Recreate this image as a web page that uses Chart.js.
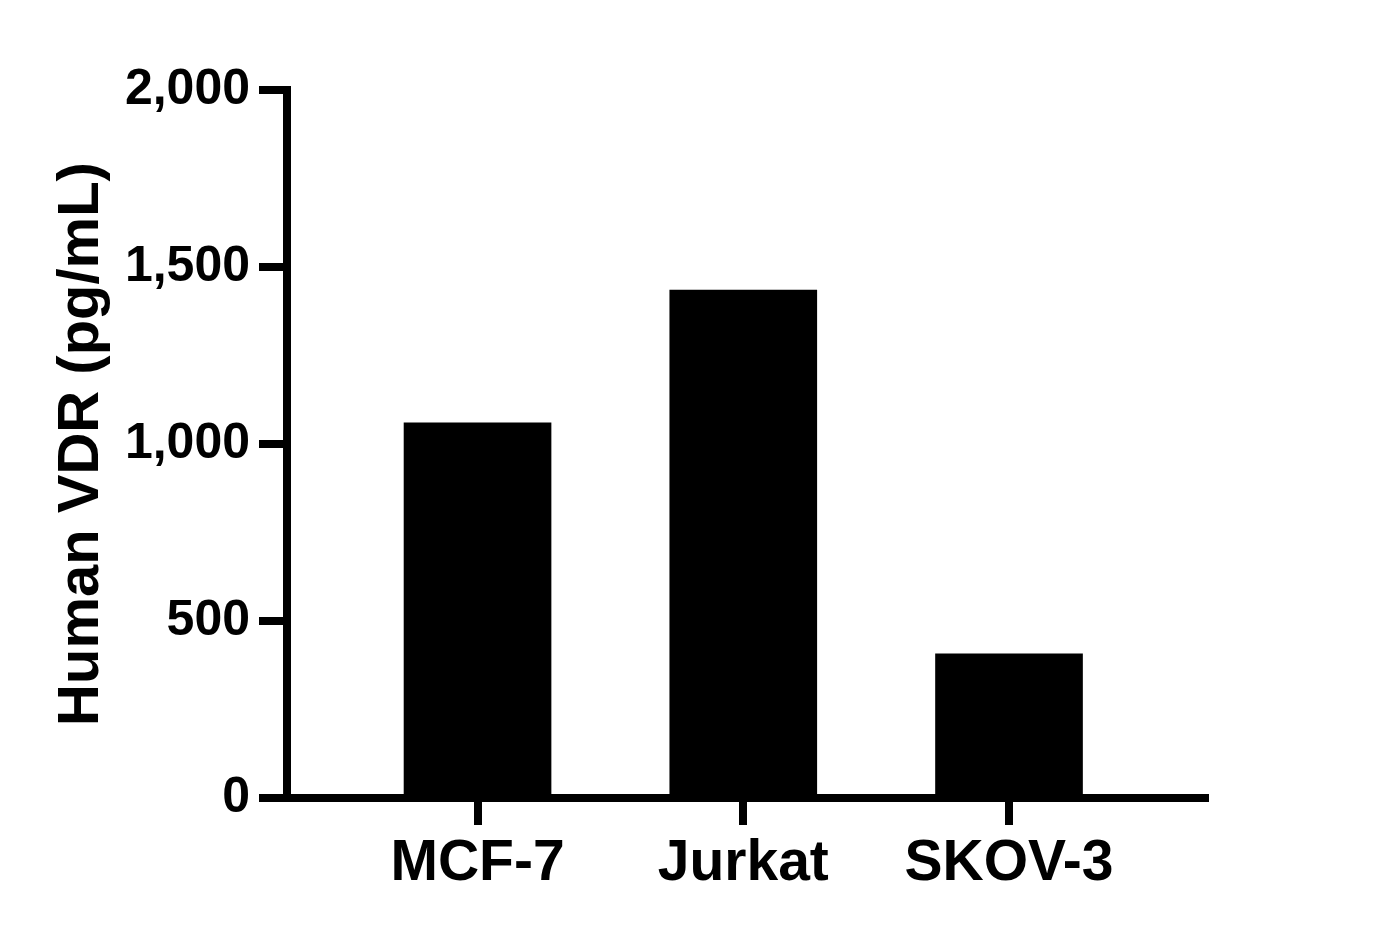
<!DOCTYPE html>
<html>
<head>
<meta charset="utf-8">
<title>Human VDR</title>
<script src="https://cdn.jsdelivr.net/npm/chart.js@4/dist/chart.umd.min.js"></script>
<style>
  html, body { margin: 0; padding: 0; background: #fff; }
  #wrap { width: 1381px; height: 938px; position: relative; }
</style>
</head>
<body>
<div id="wrap"><canvas id="barChart"></canvas></div>
<script>
// data
const categories = ["MCF-7", "Jurkat", "SKOV-3"];
const vdrValues = [1060, 1435, 407];
const yTicks = [0, 500, 1000, 1500, 2000];
const yTitle = "Human VDR (pg/mL)";

const FONT = "'Liberation Sans', Arial, Helvetica, sans-serif";

function drawBarChart() {
    "use strict";
    let ctx = document.getElementById("barChart");
    let points = categories.map((c, i) => ({ x: i + 1, y: vdrValues[i] }));
    new Chart(ctx, {
        type: 'bar',
        data: {
            datasets: [{
                label: yTitle,
                data: points,
                backgroundColor: "#000",
                borderWidth: 0,
                barThickness: 147
            }]
        },
        options: {
            responsive: true,
            maintainAspectRatio: false,
            animation: false,
            devicePixelRatio: 1,
            layout: {
                padding: { left: 0, right: 176, top: 90, bottom: 0 }
            },
            plugins: {
                legend: { display: false },
                tooltip: { enabled: false }
            },
            scales: {
                x: {
                    type: 'linear',
                    offset: false,
                    min: 0.283,
                    max: 3.7375,
                    afterBuildTicks: (scale) => {
                        scale.ticks = categories.map((c, i) => ({ value: i + 1 }));
                    },
                    afterFit: (scale) => { scale.height = 140; },
                    border: { display: true, width: 8, color: "#000" },
                    grid: {
                        display: true,
                        offset: false,
                        drawOnChartArea: false,
                        drawTicks: true,
                        tickLength: 27,
                        lineWidth: 8,
                        color: "#000"
                    },
                    ticks: {
                        color: "#000",
                        padding: 5,
                        maxRotation: 0,
                        autoSkip: false,
                        font: { family: FONT, size: 57, weight: 'bold' },
                        callback: (value) => categories[value - 1] || ""
                    }
                },
                y: {
                    min: yTicks[0],
                    max: yTicks[yTicks.length - 1],
                    afterBuildTicks: (scale) => {
                        scale.ticks = yTicks.map(v => ({ value: v }));
                    },
                    afterFit: (scale) => { scale.width = 287; },
                    border: { display: true, width: 8, color: "#000" },
                    grid: {
                        display: true,
                        drawOnChartArea: false,
                        drawTicks: true,
                        tickLength: 28,
                        lineWidth: 8,
                        color: "#000"
                    },
                    ticks: {
                        color: "#000",
                        padding: 9,
                        font: { family: FONT, size: 50, weight: 'bold' },
                        callback: (value) => value.toLocaleString('en-US')
                    },
                    title: {
                        display: true,
                        text: yTitle,
                        color: "#000",
                        padding: { top: 47, bottom: 0 },
                        font: { family: FONT, size: 58, weight: 'bold' }
                    }
                }
            }
        }
    });
}
drawBarChart();
</script>
</body>
</html>
